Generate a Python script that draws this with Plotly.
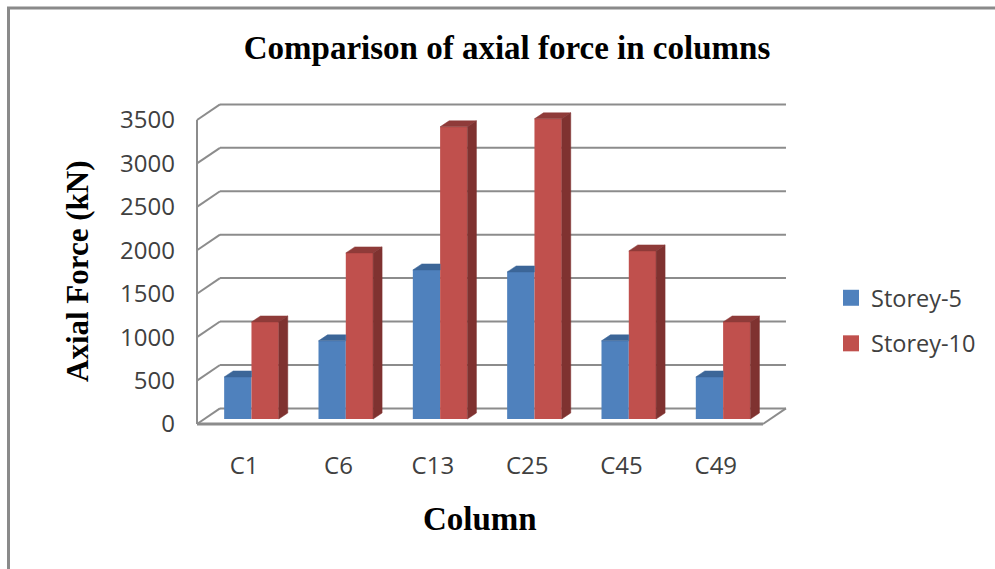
import plotly.graph_objects as go

categories = ["C1", "C6", "C13", "C25", "C45", "C49"]
storey_5 = [484, 900, 1716, 1693, 900, 484]
storey_10 = [1117, 1912, 3364, 3456, 1935, 1117]
y_ticks = [0, 500, 1000, 1500, 2000, 2500, 3000, 3500]

W, H = 995, 569
PX_X = 94.33
PX_Y = 0.08686
GRID = "#8c8c8c"
BLUE, BLUE_TOP = "#4f81bd", "#3c6698"
RED, RED_SIDE, RED_TOP = "#c0504d", "#7f3230", "#8f3b39"
FRONT = "#404040"
SANS = "Open Sans"
SERIF = "Liberation Serif"

bar_w = 27.3 / PX_X
bar_shift = 7.3 / PX_X
bar_base = 5 / PX_Y
depth_x, depth_y = 9 / PX_X, 6 / PX_Y
wall_x, wall_y = 23 / PX_X, 15.6 / PX_Y
n = len(categories)
centers = [i + 0.5 for i in range(n)]

fig = go.Figure()

def face(xs, ys, color):
    fig.add_trace(go.Scatter(x=xs, y=ys, mode="lines", fill="toself", fillcolor=color,
                             line=dict(color=color, width=0.5), hoverinfo="skip",
                             showlegend=False))

for name, vals, side, color, top in [("Storey-5", storey_5, -1, BLUE, BLUE_TOP),
                                     ("Storey-10", storey_10, 1, RED, RED_TOP)]:
    xs = [c + bar_shift + side * bar_w / 2 for c in centers]
    fig.add_trace(go.Bar(x=xs, y=vals, base=bar_base, width=bar_w, name=name,
                         marker=dict(color=color, line=dict(width=0)),
                         showlegend=False, legendgroup=name))
    for x, v in zip(xs, vals):
        x0, x1 = x - bar_w / 2, x + bar_w / 2
        t = v + bar_base
        if side < 0:
            face([x0, x0 + depth_x, x1, x1, x0], [t, t + depth_y, t + depth_y, t, t], top)
        else:
            face([x0, x0 + depth_x, x1 + depth_x, x1, x0], [t, t + depth_y, t + depth_y, t, t], top)
            face([x1, x1 + depth_x, x1 + depth_x, x1, x1],
                 [t, t + depth_y, bar_base + depth_y, bar_base, t], RED_SIDE)
    fig.add_trace(go.Scatter(x=[None], y=[None], mode="markers", name=name, legendgroup=name,
                             marker=dict(symbol="square", size=16, color=color)))

fig.update_layout(
    width=W, height=H, margin=dict(l=0, r=0, t=0, b=0),
    paper_bgcolor="white", plot_bgcolor="white", barmode="overlay",
    font=dict(family=SANS, color=FRONT),
    title=dict(text="<b>Comparison of axial force in columns</b>", x=507 / W, xanchor="center",
               y=1 - 47 / H, yanchor="middle", font=dict(family=SERIF, size=33, color="black")),
    legend=dict(x=831 / W, y=1 - 276 / H, xanchor="left", yanchor="top", tracegroupgap=12,
                font=dict(family=SANS, size=23.5, color=FRONT), itemwidth=30,
                bgcolor="rgba(0,0,0,0)"),
    xaxis=dict(domain=[190 / W, 790 / W], range=[(190 - 197) / PX_X, (790 - 197) / PX_X],
               tickmode="array", tickvals=centers, ticktext=categories, showgrid=False,
               zeroline=False, showline=False, ticks="", ticklabelstandoff=19, automargin=False,
               tickfont=dict(family=SANS, size=24, color=FRONT)),
    yaxis=dict(domain=[1 - 430 / H, 1 - 100 / H], range=[(424 - 430) / PX_Y, (424 - 100) / PX_Y],
               tickmode="array", tickvals=y_ticks, showgrid=False, zeroline=False, showline=False,
               ticks="", ticklabelstandoff=14, automargin=False,
               tickfont=dict(family=SANS, size=24, color=FRONT)),
)

def line(x0, y0, x1, y1, width=2):
    fig.add_shape(type="line", xref="x", yref="y", x0=x0, y0=y0, x1=x1, y1=y1,
                  layer="below", line=dict(color=GRID, width=width))

for v in y_ticks:
    line(0, v, wall_x, v + wall_y)
    line(wall_x, v + wall_y, n + wall_x, v + wall_y)
line(0, 0, 0, y_ticks[-1])
line(0, 0, n, 0, 3)
line(n, 0, n + wall_x, wall_y)

fig.add_shape(type="line", xref="paper", yref="paper", x0=7 / W, x1=1, y0=1 - 8 / H, y1=1 - 8 / H,
              line=dict(color="#8a8a8a", width=3))
fig.add_shape(type="line", xref="paper", yref="paper", x0=8.5 / W, x1=8.5 / W, y0=0, y1=1 - 7 / H,
              line=dict(color="#8a8a8a", width=3))

fig.add_annotation(text="<b>Column</b>", xref="paper", yref="paper", x=480 / W, y=1 - 519 / H,
                   xanchor="center", yanchor="middle",
                   showarrow=False, font=dict(family=SERIF, size=33, color="black"))
fig.add_annotation(text="<b>Axial Force (kN)</b>", xref="paper", yref="paper", x=77 / W, y=1 - 271 / H,
                   xanchor="center", yanchor="middle",
                   showarrow=False, textangle=-90, font=dict(family=SERIF, size=31, color="black"))

fig.write_html("out.html", config={"displayModeBar": False},
               post_script="document.body.style.margin='0';document.body.style.overflow='hidden';")
